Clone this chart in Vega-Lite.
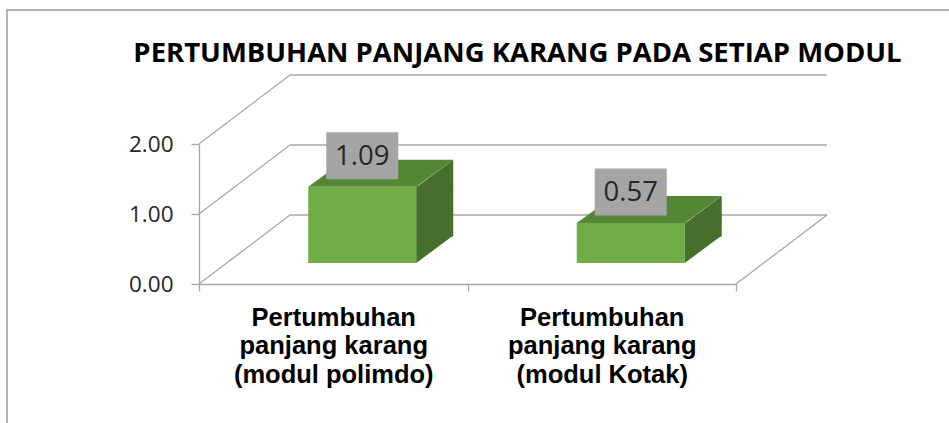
{
  "$schema": "https://vega.github.io/schema/vega-lite/v6.json",
  "autosize": {"type": "none"},
  "padding": {"left": 7, "top": 10, "right": -5, "bottom": -5},
  "width": 947,
  "height": 418,
  "background": "white",
  "config": {"view": {"stroke": "#9a9a9a", "strokeWidth": 1.5}, "font": "Open Sans"},
  "title": {
    "text": "PERTUMBUHAN PANJANG KARANG PADA SETIAP MODUL",
    "font": "Open Sans", "fontSize": 27.5, "fontWeight": "bold", "color": "#000000",
    "anchor": "middle", "frame": "group", "baseline": "alphabetic", "offset": 0, "dx": 37, "dy": 79
  },
  "datasets": {
    "bars": [
      {"modul": "Pertumbuhan panjang karang (modul polimdo)", "nilai": 1.09},
      {"modul": "Pertumbuhan panjang karang (modul Kotak)", "nilai": 0.57}
    ],
    "grid": [{"v": 0}, {"v": 1}, {"v": 2}]
  },
  "layer": [
    {
      "data": {"name": "grid"},
      "mark": {"type": "rule", "color": "#a6a6a6", "strokeWidth": 1.3, "xOffset": 91, "x2Offset": 91, "yOffset": -69},
      "encoding": {
        "x": {"datum": "Pertumbuhan panjang karang (modul polimdo)", "type": "nominal", "bandPosition": 0, "title": null,
              "scale": {"type": "band", "domain": ["Pertumbuhan panjang karang (modul polimdo)", "Pertumbuhan panjang karang (modul Kotak)"], "range": [192, 729], "paddingInner": 0, "paddingOuter": 0}},
        "x2": {"datum": "Pertumbuhan panjang karang (modul Kotak)", "bandPosition": 1},
        "y": {"field": "v", "type": "quantitative", "title": null, "scale": {"domain": [0, 2], "range": [274, 134], "nice": false, "zero": true}}
      }
    },
    {
      "data": {"name": "grid"},
      "mark": {"type": "rule", "color": "#a6a6a6", "strokeWidth": 1.3, "x2Offset": 91, "y2Offset": -69},
      "encoding": {
        "x": {"datum": "Pertumbuhan panjang karang (modul polimdo)", "type": "nominal", "bandPosition": 0, "title": null},
        "x2": {"datum": "Pertumbuhan panjang karang (modul polimdo)", "bandPosition": 0},
        "y": {"field": "v", "type": "quantitative", "title": null},
        "y2": {"field": "v"}
      }
    },
    {
      "data": {"name": "grid"},
      "transform": [{"filter": "datum.v == 0"}],
      "mark": {"type": "rule", "color": "#a6a6a6", "strokeWidth": 1.3, "x2Offset": 91, "y2Offset": -69},
      "encoding": {
        "x": {"datum": "Pertumbuhan panjang karang (modul Kotak)", "type": "nominal", "bandPosition": 1, "title": null},
        "x2": {"datum": "Pertumbuhan panjang karang (modul Kotak)", "bandPosition": 1},
        "y": {"field": "v", "type": "quantitative", "title": null},
        "y2": {"field": "v"}
      }
    },
    {
      "data": {"name": "bars"},
      "mark": {"type": "bar", "color": "#70ad47", "width": 108, "xOffset": 29, "yOffset": -21, "y2Offset": -21},
      "encoding": {
        "x": {"field": "modul", "type": "nominal", "title": null,
              "axis": {"orient": "bottom", "offset": -144, "tickBand": "extent", "tickSize": 7, "tickColor": "#a6a6a6", "tickWidth": 1.3,
                       "domainColor": "#a6a6a6", "domainWidth": 1.3, "grid": false, "labelAngle": 0, "labelAlign": "center", "labelBaseline": "top",
                       "labelExpr": "[slice(datum.label,0,11), slice(datum.label,12,26), slice(datum.label,27)]",
                       "labelFont": "Liberation Sans", "labelFontWeight": "bold", "labelFontSize": 25.5, "labelLineHeight": 28.5,
                       "labelColor": "#000000", "labelPadding": 14, "labelLimit": 0, "labelOverlap": false, "labelFlush": false}},
        "y": {"field": "nilai", "type": "quantitative", "title": null,
              "axis": {"values": [0, 1, 2], "format": ".2f", "offset": -192, "tickSize": 8, "tickColor": "#a6a6a6", "tickWidth": 1.3,
                       "domainColor": "#a6a6a6", "domainWidth": 1.3, "grid": false, "labelFont": "Open Sans", "labelFontSize": 22.5,
                       "labelColor": "#262626", "labelPadding": 18}},
        "y2": {"datum": 0}
      }
    },
    {
      "data": {"name": "bars"},
      "mark": {"type": "bar", "color": "#466f2c", "width": 37, "xOffset": 101.5, "yOffset": -21.5, "y2Offset": -47.5},
      "encoding": {
        "x": {"field": "modul", "type": "nominal", "title": null},
        "y": {"field": "nilai", "type": "quantitative", "title": null},
        "y2": {"datum": 0}
      }
    },
    {
      "data": {"name": "bars"},
      "mark": {"type": "point", "filled": true, "opacity": 1, "strokeWidth": 0, "color": "#466f2c", "size": 10000,
               "shape": "M1.08,0.01L1.82,-0.54L1.82,0.01Z", "xOffset": 29, "yOffset": -21},
      "encoding": {
        "x": {"field": "modul", "type": "nominal", "title": null},
        "y": {"field": "nilai", "type": "quantitative", "title": null}
      }
    },
    {
      "data": {"name": "bars"},
      "mark": {"type": "point", "filled": true, "opacity": 1, "strokeWidth": 0, "color": "#466f2c", "size": 10000,
               "shape": "M1.08,-0.55L1.82,-0.55L1.08,0Z", "xOffset": 29, "yOffset": -21},
      "encoding": {
        "x": {"field": "modul", "type": "nominal", "title": null},
        "y": {"datum": 0, "type": "quantitative", "title": null}
      }
    },
    {
      "data": {"name": "bars"},
      "mark": {"type": "point", "filled": true, "opacity": 1, "strokeWidth": 0, "color": "#558636", "size": 10000,
               "shape": "M-1.08,0L1.08,0L1.82,-0.54L-0.34,-0.54Z", "xOffset": 29, "yOffset": -21},
      "encoding": {
        "x": {"field": "modul", "type": "nominal", "title": null},
        "y": {"field": "nilai", "type": "quantitative", "title": null}
      }
    },
    {
      "data": {"name": "bars"},
      "mark": {"type": "bar", "color": "#a5a5a5", "width": 72, "xOffset": 29, "yOffset": -28.5, "y2Offset": -75.5},
      "encoding": {
        "x": {"field": "modul", "type": "nominal", "title": null},
        "y": {"field": "nilai", "type": "quantitative", "title": null},
        "y2": {"field": "nilai"}
      }
    },
    {
      "data": {"name": "bars"},
      "mark": {"type": "text", "font": "Open Sans", "fontSize": 27.5, "color": "#262626", "align": "center", "baseline": "middle", "dx": 29, "dy": -51},
      "encoding": {
        "x": {"field": "modul", "type": "nominal", "title": null},
        "y": {"field": "nilai", "type": "quantitative", "title": null},
        "text": {"field": "nilai", "type": "quantitative", "format": ".2f"}
      }
    }
  ]
}
